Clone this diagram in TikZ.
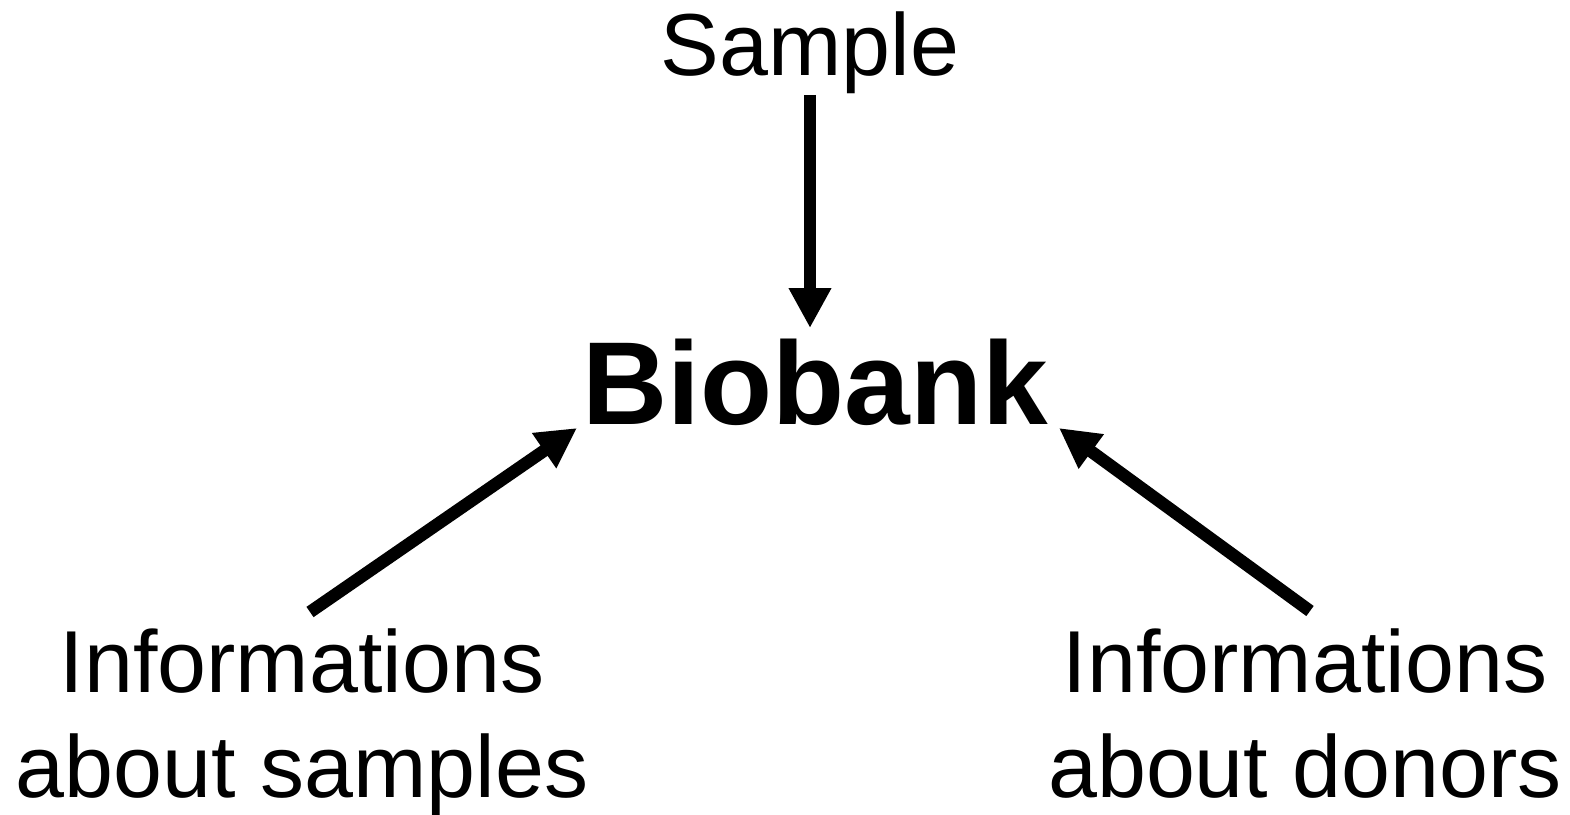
\documentclass[tikz,border=0pt]{standalone}
\usepackage{fontspec}
\setmainfont{Liberation Sans}
\usetikzlibrary{arrows.meta}
\begin{document}
\begin{tikzpicture}[x=1pt,y=-1pt,
  lbl/.style={inner sep=0pt,outer sep=0pt,align=center,anchor=base,font=\fontsize{88}{105}\selectfont},
  ttl/.style={inner sep=0pt,outer sep=0pt,anchor=base,font=\fontsize{118}{130}\selectfont\bfseries},
  arr/.style={line width=12.5pt,-{Triangle[length=40pt,width=40pt]}}]
\useasboundingbox[fill=white] (0,0) rectangle (1570,814);
\node[lbl] (smp) at (810,75) {Sample};
\node[ttl] (bio) at (815,424) {Biobank};
\node[lbl] (ls) at (302,797) {Informations\\about samples};
\node[lbl] (ld) at (1305,797) {Informations\\about donors};
\draw[arr] ([shift={(0,1.5)}]smp.south) -- ([shift={(-5,-96)}]bio.base);
\draw[arr] ([shift={(8,-185)}]ls.base) -- ([shift={(-238,4)}]bio.base);
\draw[arr] ([shift={(5,-186)}]ld.base) -- ([shift={(244,4)}]bio.base);
\end{tikzpicture}
\end{document}
